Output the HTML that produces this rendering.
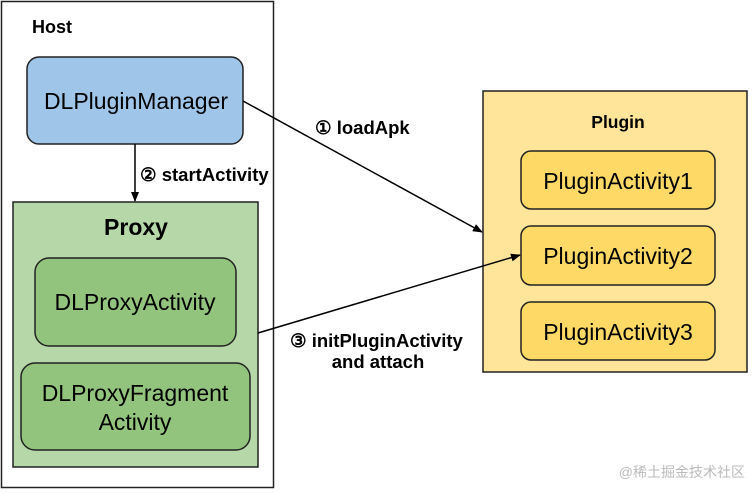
<!DOCTYPE html>
<html><head><style>body{margin:0;background:#fff}</style></head><body>
<svg width="754" height="489" xmlns="http://www.w3.org/2000/svg" font-family="Liberation Sans, sans-serif">
<defs><marker id="a" markerWidth="10" markerHeight="8" refX="9" refY="4" orient="auto" markerUnits="userSpaceOnUse"><path d="M0,0 L10,4 L0,8 z" fill="#000"/></marker></defs>
<rect x="1.5" y="1.5" width="272" height="486" fill="#fff" stroke="#222" stroke-width="1.5"/>
<text x="32" y="33" font-size="18" font-weight="bold">Host</text>
<rect x="27" y="57" width="216" height="87" rx="12" fill="#9fc5e8" stroke="#222" stroke-width="1.5"/>
<text x="136" y="109" font-size="23" text-anchor="middle">DLPluginManager</text>
<line x1="135" y1="144" x2="135" y2="201" stroke="#000" stroke-width="1.5" marker-end="url(#a)"/>
<text x="140" y="181" font-size="18.5" font-weight="bold">② startActivity</text>
<rect x="13" y="202" width="245" height="265" fill="#b6d7a8" stroke="#222" stroke-width="1.5"/>
<text x="136" y="235" font-size="23" font-weight="bold" text-anchor="middle">Proxy</text>
<rect x="35" y="258" width="201" height="88" rx="14" fill="#93c47d" stroke="#222" stroke-width="1.5"/>
<text x="135" y="310" font-size="23" text-anchor="middle">DLProxyActivity</text>
<rect x="21" y="363" width="229" height="87" rx="14" fill="#93c47d" stroke="#222" stroke-width="1.5"/>
<text x="135" y="401" font-size="23" text-anchor="middle">DLProxyFragment</text>
<text x="135" y="430" font-size="23" text-anchor="middle">Activity</text>
<rect x="483" y="91" width="264" height="281" fill="#ffe599" stroke="#222" stroke-width="1.5"/>
<text x="618" y="128" font-size="17.5" font-weight="bold" text-anchor="middle">Plugin</text>
<rect x="521" y="151" width="194" height="58" rx="10" fill="#ffd966" stroke="#222" stroke-width="1.5"/>
<text x="618" y="189" font-size="23" text-anchor="middle">PluginActivity1</text>
<rect x="521" y="226" width="194" height="59" rx="10" fill="#ffd966" stroke="#222" stroke-width="1.5"/>
<text x="618" y="264" font-size="23" text-anchor="middle">PluginActivity2</text>
<rect x="521" y="302" width="194" height="58" rx="10" fill="#ffd966" stroke="#222" stroke-width="1.5"/>
<text x="618" y="340" font-size="23" text-anchor="middle">PluginActivity3</text>
<line x1="243" y1="101" x2="482" y2="232" stroke="#000" stroke-width="1.5" marker-end="url(#a)"/>
<text x="315" y="134" font-size="18.5" font-weight="bold">① loadApk</text>
<line x1="258" y1="333" x2="520" y2="255" stroke="#000" stroke-width="1.5" marker-end="url(#a)"/>
<text x="290" y="347" font-size="18.5" font-weight="bold">③ initPluginActivity</text>
<text x="378" y="368" font-size="18.5" font-weight="bold" text-anchor="middle">and attach</text>
<text x="745" y="477" font-size="14" fill="#bbb" text-anchor="end" font-family="Liberation Sans, Noto Sans CJK SC, sans-serif">@稀土掘金技术社区</text>
</svg>
</body></html>
